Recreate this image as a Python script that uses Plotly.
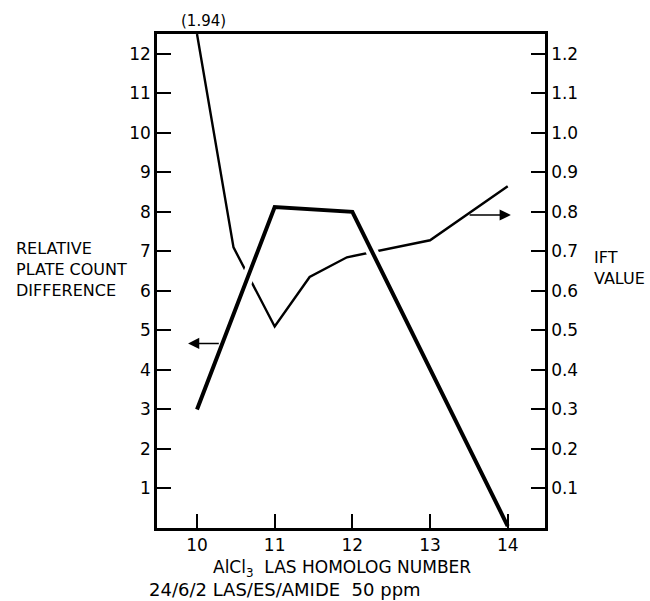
import plotly.graph_objects as go

# ---- data ----
homolog_plate = [10, 11, 12, 14]
plate_count = [3.0, 8.12, 8.0, 0.05]

homolog_ift = [10, 10.47, 11, 11.45, 11.93, 13, 14]
ift_value = [1.94, 0.71, 0.51, 0.635, 0.685, 0.728, 0.865]

x_ticks = [10, 11, 12, 13, 14]
left_ticks = [1, 2, 3, 4, 5, 6, 7, 8, 9, 10, 11, 12]
right_ticks = [0.1, 0.2, 0.3, 0.4, 0.5, 0.6, 0.7, 0.8, 0.9, 1.0, 1.1, 1.2]
right_tick_text = ["0.1", "0.2", "0.3", "0.4", "0.5", "0.6", "0.7", "0.8", "0.9", "1.0", "1.1", "1.2"]

IFT_TOP = 1.25
PLATE_TOP = 12.5
# off-scale value drawn at the top edge of the axis (value given in label)
ift_drawn = [min(v, IFT_TOP) for v in ift_value]

FONT = "DejaVu Sans"
FS = 16
TICK_FS = 17

fig = go.Figure()

# IFT (thin) on main y axis (right side)
fig.add_trace(go.Scatter(x=homolog_ift, y=ift_drawn, mode="lines",
                         line=dict(color="black", width=2.4),
                         yaxis="y", showlegend=False, hoverinfo="skip"))
# white halo to break thin line where bold crosses
fig.add_trace(go.Scatter(x=homolog_plate, y=plate_count, mode="lines",
                         line=dict(color="white", width=12),
                         yaxis="y2", showlegend=False, hoverinfo="skip"))
# relative plate count (bold) on left axis
fig.add_trace(go.Scatter(x=homolog_plate, y=plate_count, mode="lines",
                         line=dict(color="black", width=4),
                         yaxis="y2", showlegend=False, hoverinfo="skip"))

axis_common = dict(showline=True, linecolor="black", linewidth=2.5,
                   ticks="inside", ticklen=14, tickwidth=2, tickcolor="black",
                   showgrid=False, zeroline=False,
                   tickfont=dict(family=FONT, size=TICK_FS, color="black"))

fig.update_layout(
    width=650, height=601, autosize=False,
    margin=dict(l=157, r=105, t=34, b=73),
    plot_bgcolor="white", paper_bgcolor="white",
    xaxis=dict(range=[9.485, 14.48], tickvals=x_ticks,
               mirror=True, **axis_common),
    yaxis=dict(range=[0, IFT_TOP], side="right", tickvals=right_ticks,
               ticktext=right_tick_text, **axis_common),
    yaxis2=dict(range=[0, PLATE_TOP], side="left", overlaying="y",
                tickvals=left_ticks, **axis_common),
    font=dict(family=FONT, size=FS, color="black"),
)

annotations = [
    dict(text="RELATIVE<br>PLATE COUNT<br>DIFFERENCE", xref="paper", yref="paper",
         x=-0.3686, y=0.524, xanchor="left", yanchor="middle", align="left",
         showarrow=False, font=dict(family=FONT, size=FS)),
    dict(text="IFT<br>VALUE", xref="paper", yref="paper",
         x=1.121, y=0.526, xanchor="left", yanchor="middle", align="left",
         showarrow=False, font=dict(family=FONT, size=FS)),
    dict(text="(1.94)", xref="x", yref="paper", x=10.08, y=1.026,
         xanchor="center", yanchor="middle", showarrow=False,
         font=dict(family=FONT, size=15)),
    dict(text="AlCl<sub>3</sub>  LAS HOMOLOG NUMBER", xref="paper", yref="paper",
         x=0.477, y=-0.082, xanchor="center", yanchor="middle", showarrow=False,
         font=dict(family=FONT, size=17)),
    dict(text="24/6/2 LAS/ES/AMIDE  50 ppm", xref="paper", yref="paper",
         x=-0.026, y=-0.1255, xanchor="left", yanchor="middle", showarrow=False,
         font=dict(family=FONT, size=18)),
    # arrow pointing left (plate count -> left axis)
    dict(x=9.885, y=4.67, xref="x", yref="y2", ax=10.30, ay=4.67,
         axref="x", ayref="y2", showarrow=True, arrowhead=2, arrowsize=1.4,
         arrowwidth=1.6, arrowcolor="black", text=""),
    # arrow pointing right (IFT -> right axis)
    dict(x=14.04, y=0.792, xref="x", yref="y", ax=13.49, ay=0.792,
         axref="x", ayref="y", showarrow=True, arrowhead=2, arrowsize=1.4,
         arrowwidth=1.6, arrowcolor="black", text=""),
]
fig.update_layout(annotations=annotations)

fig.write_html("out.html", config={"displayModeBar": False},
               post_script="document.body.style.margin='0';document.body.style.overflow='hidden';")
